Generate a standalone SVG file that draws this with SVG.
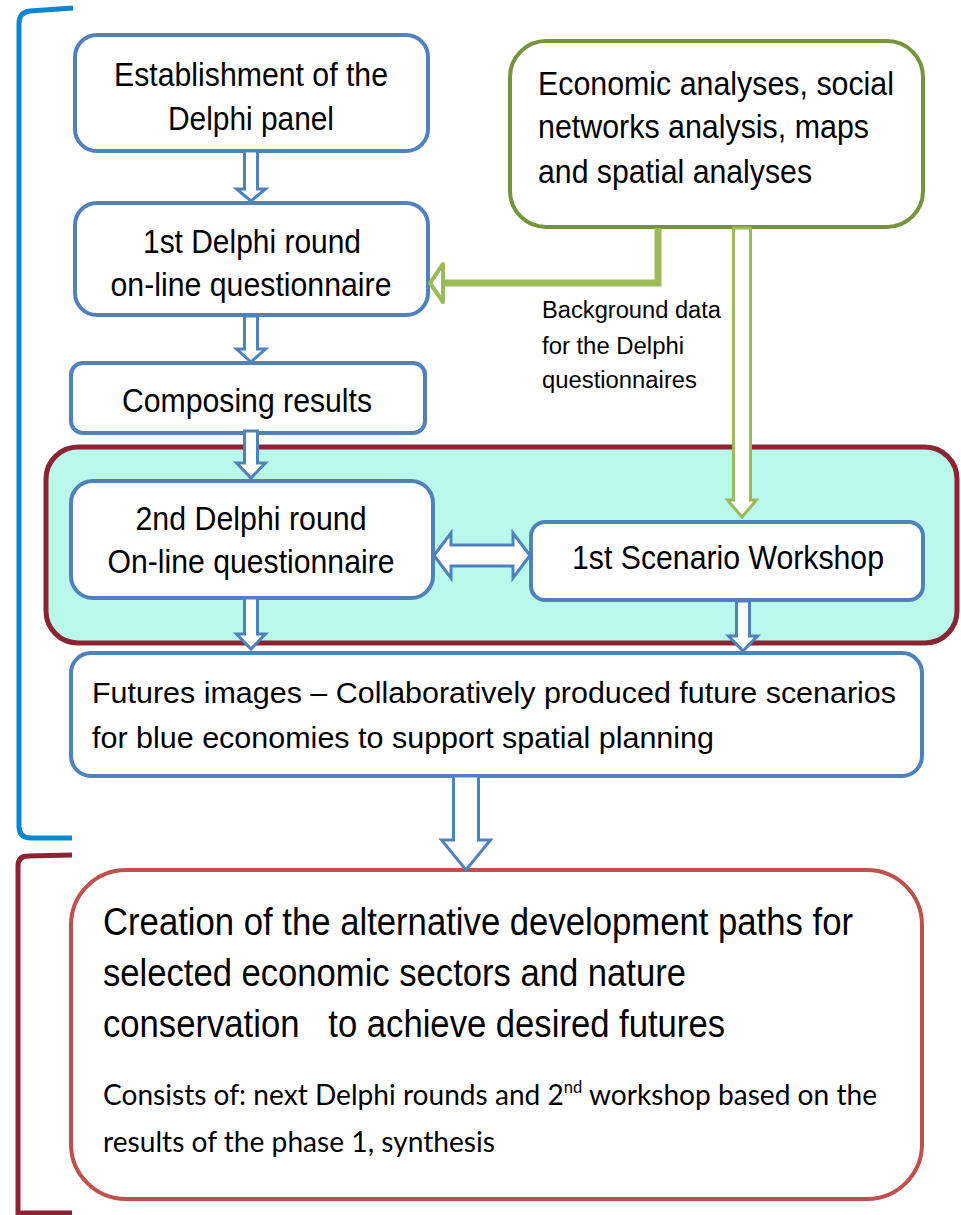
<svg xmlns="http://www.w3.org/2000/svg" width="961" height="1215" viewBox="0 0 961 1215">
<style>
.bnode{fill:#fff;stroke:#4f81bd;stroke-width:4}
.t{font-family:"Liberation Sans",Arial,sans-serif;fill:#000;}
.t33{font-size:33px}
.t30{font-size:30px}
.t23{font-size:23px}
.t38{font-size:38px}
.c{font-family:Lato,"Open Sans",sans-serif;font-size:29px;fill:#000}
.barrow{fill:#fff;stroke:#4f81bd;stroke-width:3;stroke-linejoin:miter}
.garrow{fill:#fff;stroke:#9bbb59;stroke-width:3}
</style>
<rect width="961" height="1215" fill="#fff"/>
<g id="brackets" fill="none">
<path d="M73,8 L30,11 Q19,12 19,24 L19,826 Q19,838 31,838 L72,838" stroke="#0b87cf" stroke-width="5"/>
<path d="M72,855 L28,856 Q18,856 18,866 L18,1213 L72,1213" stroke="#8b2332" stroke-width="5"/>
</g>
<g id="phase-container">
<rect x="46" y="447" width="911" height="196" rx="32" fill="#b9f8ea" stroke="#8b2332" stroke-width="5"/>
</g>
<g id="node-establishment">
<rect class="bnode" x="75" y="35" width="353" height="116" rx="22"/>
<text class="t t33" x="251" y="86" text-anchor="middle" textLength="274" lengthAdjust="spacingAndGlyphs">Establishment of the</text>
<text class="t t33" x="251" y="130" text-anchor="middle" textLength="166" lengthAdjust="spacingAndGlyphs">Delphi panel</text>
</g>
<g id="node-analyses">
<rect x="510" y="41" width="413" height="186" rx="36" fill="#fff" stroke="#77933c" stroke-width="4"/>
<text class="t t33" x="538" y="95" textLength="356" lengthAdjust="spacingAndGlyphs">Economic analyses, social</text>
<text class="t t33" x="538" y="138" textLength="331" lengthAdjust="spacingAndGlyphs">networks analysis, maps</text>
<text class="t t33" x="538" y="183" textLength="274" lengthAdjust="spacingAndGlyphs">and spatial analyses</text>
</g>
<g id="node-round1">
<rect class="bnode" x="75" y="203" width="353" height="112" rx="22"/>
<text class="t t33" x="252" y="253" text-anchor="middle" textLength="218" lengthAdjust="spacingAndGlyphs">1st Delphi round</text>
<text class="t t33" x="251" y="296" text-anchor="middle" textLength="281" lengthAdjust="spacingAndGlyphs">on-line questionnaire</text>
</g>
<g id="node-composing">
<rect class="bnode" x="71" y="363" width="354" height="70" rx="12"/>
<text class="t t33" x="247" y="412" text-anchor="middle" textLength="250" lengthAdjust="spacingAndGlyphs">Composing results</text>
</g>
<g id="label-background">
<text class="t t23" x="542" y="318" textLength="179" lengthAdjust="spacingAndGlyphs">Background data</text>
<text class="t t23" x="542" y="354" textLength="142" lengthAdjust="spacingAndGlyphs">for the Delphi</text>
<text class="t t23" x="542" y="388" textLength="155" lengthAdjust="spacingAndGlyphs">questionnaires</text>
</g>
<g id="node-round2">
<rect class="bnode" x="71" y="481" width="362" height="117" rx="22"/>
<text class="t t33" x="251" y="530" text-anchor="middle" textLength="231" lengthAdjust="spacingAndGlyphs">2nd Delphi round</text>
<text class="t t33" x="251" y="573" text-anchor="middle" textLength="287" lengthAdjust="spacingAndGlyphs">On-line questionnaire</text>
</g>
<g id="node-workshop">
<rect class="bnode" x="531" y="522" width="392" height="78" rx="14"/>
<text class="t t33" x="728" y="569" text-anchor="middle" textLength="312" lengthAdjust="spacingAndGlyphs">1st Scenario Workshop</text>
</g>
<g id="node-futures">
<rect class="bnode" x="71" y="653" width="851" height="123" rx="20"/>
<text class="t t30" x="92" y="703" textLength="804" lengthAdjust="spacingAndGlyphs">Futures images – Collaboratively produced future scenarios</text>
<text class="t t30" x="92" y="748" textLength="622" lengthAdjust="spacingAndGlyphs">for blue economies to support spatial planning</text>
</g>
<g id="node-creation">
<rect x="71" y="870" width="851" height="329" rx="55" fill="#fff" stroke="#c0504d" stroke-width="4"/>
<text class="t t38" x="103" y="935" textLength="750" lengthAdjust="spacingAndGlyphs">Creation of the alternative development paths for</text>
<text class="t t38" x="103" y="986" textLength="583" lengthAdjust="spacingAndGlyphs">selected economic sectors and nature</text>
<text class="t t38" x="103" y="1037" textLength="622" lengthAdjust="spacingAndGlyphs" xml:space="preserve">conservation   to achieve desired futures</text>
<text class="c" x="103" y="1105" textLength="774" lengthAdjust="spacingAndGlyphs">Consists of: next Delphi rounds and 2<tspan font-size="17" dy="-12">nd</tspan><tspan dy="12"> workshop based on the</tspan></text>
<text class="c" x="103" y="1152" textLength="392" lengthAdjust="spacingAndGlyphs">results of the phase 1, synthesis</text>
</g>
<g id="connectors">
<polygon class="barrow" points="244.5,151 257.5,151 257.5,189 265.5,189 251,201 236.5,189 244.5,189"/>
<polygon class="barrow" points="244.5,316 257.5,316 257.5,349 265.5,349 251,362 236.5,349 244.5,349"/>
<polygon class="barrow" points="244.5,431 257.5,431 257.5,463 265.5,463 251,478 236.5,463 244.5,463"/>
<polygon class="barrow" points="244.5,598 257.5,598 257.5,634 265.5,634 251,649 236.5,634 244.5,634"/>
<polygon class="barrow" points="736.5,601 749.5,601 749.5,636 757.5,636 743,651 728.5,636 736.5,636"/>
<polygon class="barrow" points="453.5,776 478.5,776 478.5,840 490.5,840 466,870 441.5,840 453.5,840"/>
<polygon class="barrow" points="434,555.5 451,533 451,545 513,545 513,533 530,555.5 513,578 513,566 451,566 451,578"/>
<polygon class="garrow" points="733.5,228 750.5,228 750.5,500 756.5,500 742,517 727.5,500 733.5,500"/>
<polyline points="658,228 658,283 442,283" fill="none" stroke="#9bbb59" stroke-width="7"/>
<polygon points="430,283 443,264 443,302" fill="#fff" stroke="#9bbb59" stroke-width="4" stroke-linejoin="round"/>
</g>
</svg>
